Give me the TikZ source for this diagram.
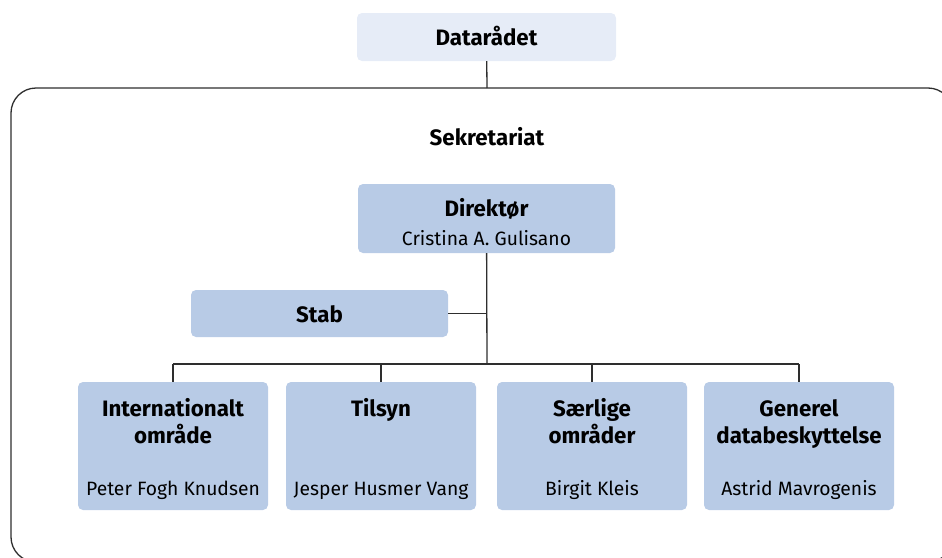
\documentclass[tikz,border=0pt]{standalone}
\usepackage{fontspec}
\setmainfont{Fira Sans}
\definecolor{boxblue}{HTML}{B8CBE6}
\definecolor{paleblue}{HTML}{E6ECF7}
\definecolor{linegray}{HTML}{2E2E2E}
\tikzset{
  unitbox/.style={fill=boxblue, rounded corners=5pt, inner sep=0pt,
    minimum width=190pt, minimum height=128pt},
  headbox/.style={unitbox, minimum width=257pt, minimum height=69pt},
  titletext/.style={anchor=base, inner sep=0pt, align=center,
    font=\fontsize{22.3}{27}\selectfont\bfseries},
  nametext/.style={anchor=base, inner sep=0pt,
    font=\fontsize{19.3}{22}\selectfont},
  link/.style={draw=linegray, line width=1.3pt}
}
\begin{document}
\begin{tikzpicture}[x=1pt,y=-1pt]
  \useasboundingbox (0,0) rectangle (942,557);
  % frame round the secretariat, cut by the page edge
  \begin{scope}
    \clip (0,0) rectangle (942,557);
    \draw[linegray, line width=1.3pt, rounded corners=25pt]
      (11,88) rectangle (953,562);
  \end{scope}
  \node[unitbox, fill=paleblue, minimum width=259pt, minimum height=48pt]
    (raad) at (486.5,37) {};
  \node[titletext] (raadtitle) at (486.5,45) {Datarådet};
  \coordinate (frametop) at (487,88);
  \node[titletext] (sekr) at (487,145) {Sekretariat};
  \node[headbox] (dir) at (486.5,218.5) {};
  \node[titletext] (dirtitle) at (486.5,216) {Direktør};
  \node[nametext] (dirname) at (486.5,245) {Cristina A. Gulisano};
  \node[headbox, minimum height=47pt] (stab) at (319.5,313.5) {};
  \node[titletext] (stabtitle) at (319.5,322) {Stab};
  \coordinate (stabjoin) at (487,313.5);
  \coordinate (bus) at (487,364);
  \draw
    (173,446) node[unitbox] (intl){}
    (381,446) node[unitbox] (tilsyn){}
    (592,446) node[unitbox] (saer){}
    (799,446) node[unitbox] (gen){};
  % base of a two-line title is its last line
  \draw
    (173,443) node[titletext] (intltitle){Internationalt\\område}
    (381,416) node[titletext] (tilsyntitle){Tilsyn}
    (592,443) node[titletext] (saertitle){Særlige\\områder}
    (799,443) node[titletext] (gentitle){Generel\\databeskyttelse};
  \draw
    (173,495) node[nametext] (intlname){Peter Fogh Knudsen}
    (381,495) node[nametext] (tilsynname){Jesper Husmer Vang}
    (592,495) node[nametext] (saername){Birgit Kleis}
    (799,495) node[nametext] (genname){Astrid Mavrogenis};
  \begin{scope}[link]
    \draw (raad) -- (frametop);
    \draw (dir) -- (bus);
    \draw (stab) -- (stabjoin);
    \draw (intl.north |- bus) -- (gen.north |- bus);
    \draw (intl) -- (intl |- bus);
    \draw (tilsyn) -- (tilsyn |- bus);
    \draw (saer) -- (saer |- bus);
    \draw (gen) -- (gen |- bus);
  \end{scope}
\end{tikzpicture}
\end{document}
